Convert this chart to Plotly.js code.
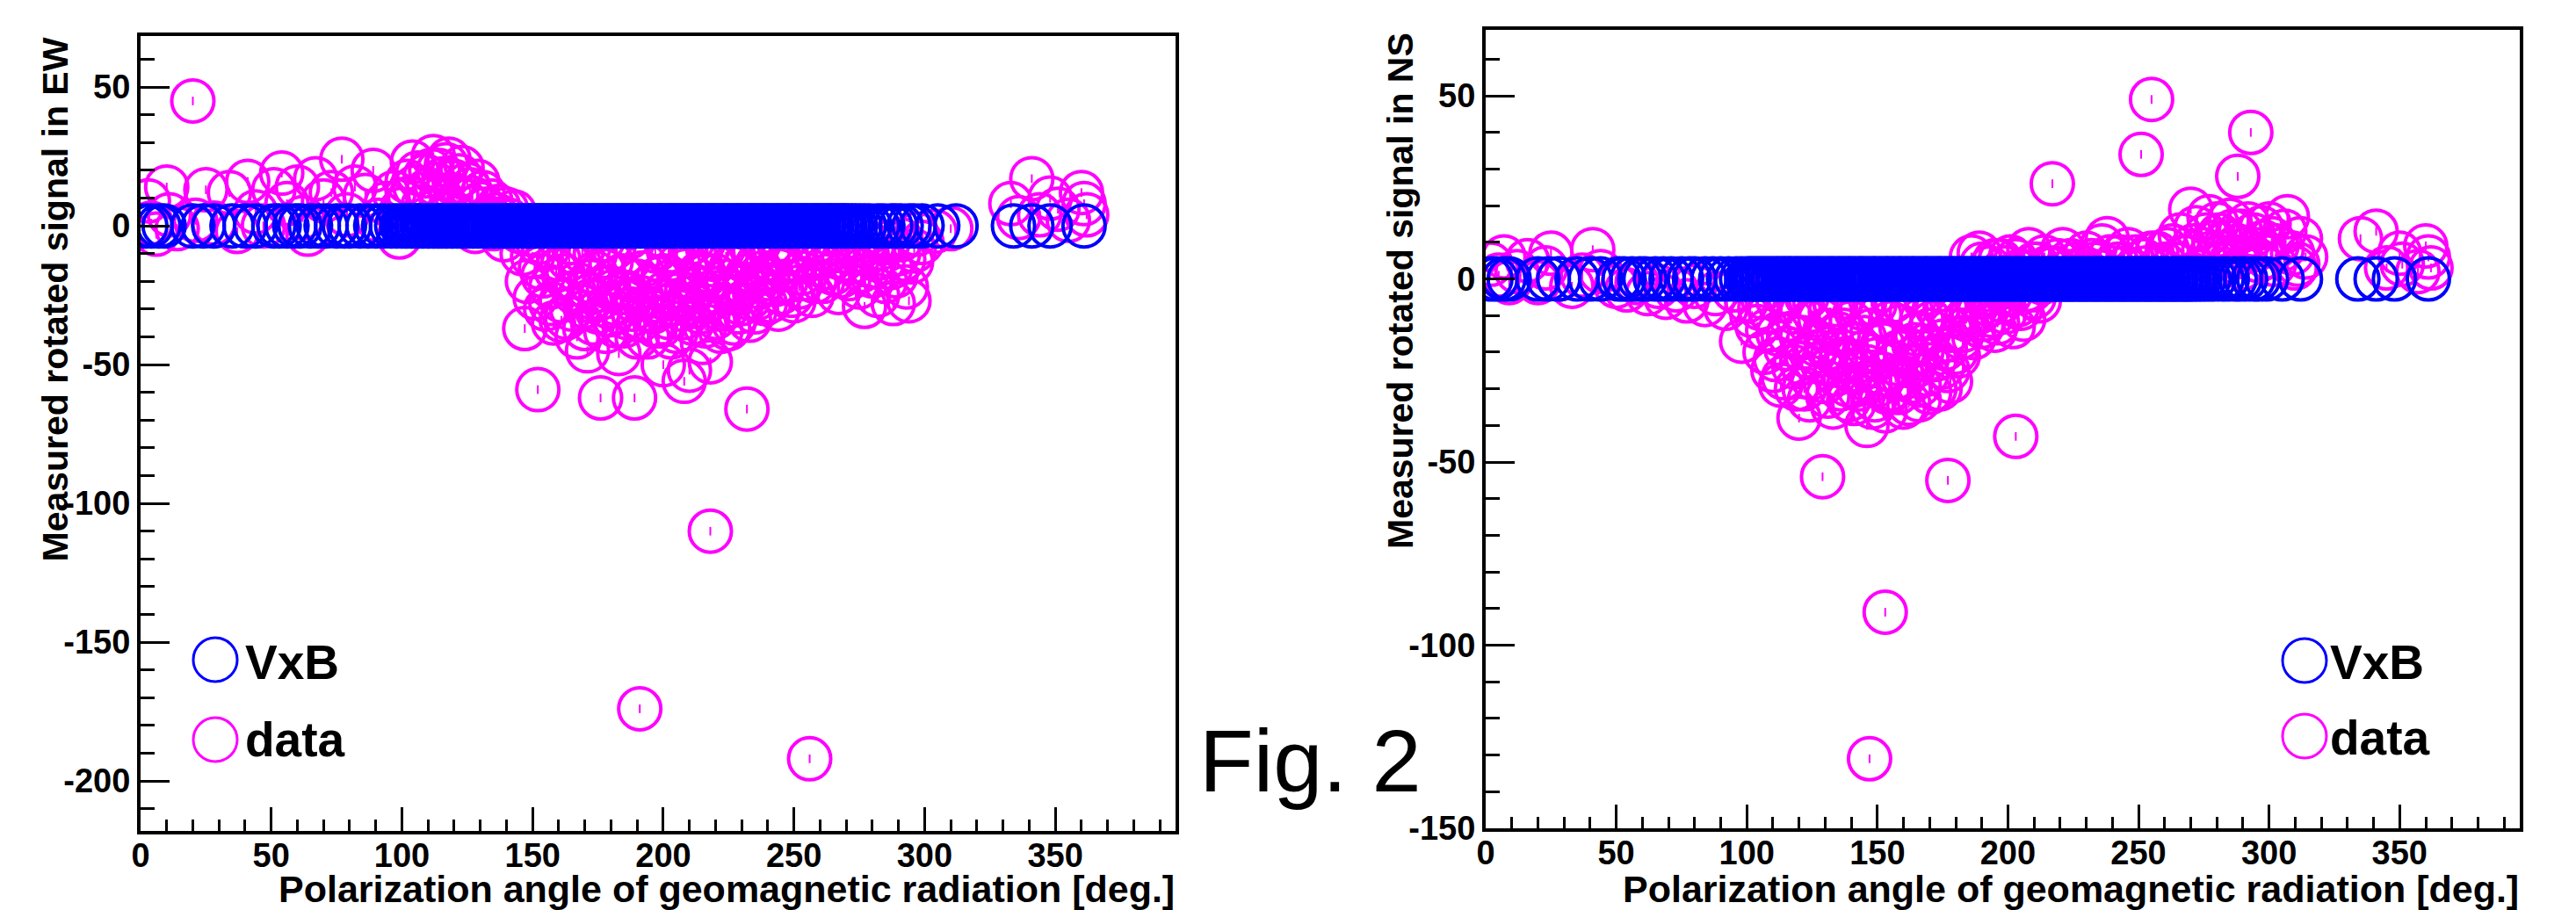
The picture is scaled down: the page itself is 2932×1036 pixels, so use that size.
<!DOCTYPE html>
<html>
<head>
<meta charset="utf-8">
<script src="https://cdn.plot.ly/plotly-3.0.1.min.js"></script>
<style>
html,body{margin:0;padding:0;background:#fff;}
#chart{width:2932px;height:1036px;}
</style>
</head>
<body>
<div id="chart"></div>
<script>
// ---------------- DATA ----------------
// Polarization angle [deg.] of each event (VxB expectation, shared by both panels)
const vxbAngle = [
  2, 4, 7, 9, 20, 24, 28, 35, 40, 44,
  51, 53, 56, 59, 61, 65, 68, 71, 75, 78,
  80, 84, 87, 90, 93, 96, 98, 100, 101.2, 102.1,
  103.4, 104.2, 105.5, 106.3, 107.6, 108.4, 109.7, 110.5, 111.8, 112.6,
  113.9, 114.7, 115.6, 116.8, 117.5, 118.9, 119.6, 120.8, 121.7, 122.9,
  123.6, 124.8, 125.7, 126.9, 127.5, 128.8, 129.6, 130.9, 131.7, 132.8,
  133.5, 134.9, 135.6, 136.8, 137.7, 138.9, 139.5, 140.8, 141.6, 142.9,
  143.7, 144.5, 145.8, 146.6, 147.9, 148.7, 149.5, 150.8, 151.6, 152.9,
  153.7, 154.5, 155.8, 156.6, 157.9, 158.7, 159.5, 160.8, 161.6, 162.9,
  163.7, 164.5, 165.8, 166.6, 167.9, 168.7, 169.5, 170.8, 171.6, 172.9,
  173.7, 174.5, 175.8, 176.6, 177.9, 178.7, 179.5, 180.8, 181.6, 182.9,
  183.7, 184.5, 185.8, 186.6, 187.9, 188.7, 189.5, 190.8, 191.6, 192.9,
  193.7, 194.5, 195.8, 196.6, 197.9, 198.7, 199.5, 200.8, 201.6, 202.9,
  203.7, 204.5, 205.8, 206.6, 207.9, 208.7, 209.5, 210.8, 211.6, 212.9,
  213.7, 214.5, 215.8, 216.6, 217.9, 218.7, 219.5, 220.8, 221.6, 222.9,
  223.7, 224.5, 225.8, 226.6, 227.9, 228.7, 229.5, 230.8, 231.6, 232.9,
  233.7, 234.5, 235.8, 236.6, 237.9, 238.7, 239.5, 240.8, 241.6, 242.9,
  243.7, 244.5, 245.8, 246.6, 247.9, 248.7, 249.5, 250.8, 251.6, 252.9,
  253.7, 254.5, 255.8, 256.6, 257.9, 258.7, 259.5, 260.8, 261.6, 262.9,
  263.7, 264.5, 265.8, 266.6, 267.9, 268.7, 269.5, 270.8, 272.1, 273.5,
  275.2, 277, 279, 282, 284, 287, 289, 291, 294, 296,
  299, 305, 312, 334, 341, 348, 361
];
const vxbSignal = [
  0,0,0,0,0,0,0,0,0,0,
  0,0,0,0,0,0,0,0,0,0,
  0,0,0,0,0,0,0,0,0,0,
  0,0,0,0,0,0,0,0,0,0,
  0,0,0,0,0,0,0,0,0,0,
  0,0,0,0,0,0,0,0,0,0,
  0,0,0,0,0,0,0,0,0,0,
  0,0,0,0,0,0,0,0,0,0,
  0,0,0,0,0,0,0,0,0,0,
  0,0,0,0,0,0,0,0,0,0,
  0,0,0,0,0,0,0,0,0,0,
  0,0,0,0,0,0,0,0,0,0,
  0,0,0,0,0,0,0,0,0,0,
  0,0,0,0,0,0,0,0,0,0,
  0,0,0,0,0,0,0,0,0,0,
  0,0,0,0,0,0,0,0,0,0,
  0,0,0,0,0,0,0,0,0,0,
  0,0,0,0,0,0,0,0,0,0,
  0,0,0,0,0,0,0,0,0,0,
  0,0,0,0,0,0,0,0,0,0,
  0,0,0,0,0,0,0,0,0,0,
  0,0,0,0,0,0,0
];

// Measured rotated signal in EW (left panel)
const ewAngle = [
  3,4,6,10,11,14,20,21,25,28,
  34,37,41,44,47,51,54,56,60,62,
  64,67,70,73,77,79,82,86,89,91,
  94,97,99,102,104,106,108,110,112,114,
  115,117,119,120,122,124,126,128,130,131,
  133,135,137,139,141,143,145,146,147,148,
  150,151,152,153,155,156,157,158,160,161,
  162,163,165,166,167,168,170,171,172,173,
  174,176,176,177,178,179,180,181,182,183,
  184,185,186,187,188,189,190,191,191,192,
  193,194,195,196,197,198,199,200,200,201,
  202,203,204,205,206,207,208,209,210,210,
  211,212,213,214,215,216,217,218,218,219,
  220,221,222,223,224,225,226,227,228,229,
  230,232,232,233,234,235,236,237,238,240,
  241,242,244,245,246,248,249,250,252,253,
  255,256,256,258,260,262,264,266,268,270,
  272,274,276,277,279,281,283,285,287,288,
  290,291,293,295,297,299,304,310,333,336,
  341,344,348,351,355,360,361,362,
  152,154,157,159,161,164,165,167,169,170,
  172,174,175,177,179,180,182,184,186,187,
  189,190,192,194,195,197,198,200,202,203,
  205,206,208,209,211,212,214,216,217,219,
  220,222,224,225,227,229,230,231,233,235,
  236,238,239,241,243,244,246,247,250,251,
  254,257,259,261,263,265,267,269,271,273,
  275,278,280,282,284,286,289,292,294,296,
  100,103,105,109,111,113,116,118,121,123,
  125,127,129,132,134,136,138,140,144,148
];
const ewSignal = [
  9,1,-3,14,4,-1,45,2,13,1,
  12,-2,16,5,0,13,19,8,14,3,
  -3,17,9,12,24,4,14,11,20,2,
  8,12,-4,16,23,19,7,13,25,20,
  10,22,5,16,18,9,13,-2,8,12,
  3,-1,7,-5,2,5,-2,-10,-37,-20,
  -11,-26,-59,-15,-30,-8,-22,-35,-12,-27,
  -18,-33,-6,-24,-40,-14,-29,-45,-20,-35,
  -10,-62,-26,-16,-38,-22,-32,-8,-28,-46,
  -18,-36,-24,-12,-30,-62,-20,-174,-34,-26,
  -14,-40,-22,-31,-9,-27,-36,-50,-18,-24,
  -33,-12,-28,-38,-20,-30,-56,-16,-52,-26,
  -35,-10,-22,-31,-42,-18,-27,-110,-49,-14,
  -33,-24,-38,-8,-20,-29,-15,-35,-22,-11,
  -28,-66,-18,-26,-7,-31,-14,-22,-4,-19,
  -27,-10,-16,-24,-6,-13,-25,-9,-22,-17,
  -5,-192,-12,-20,-8,-15,-3,-11,-18,-6,
  -13,-9,-16,-29,-4,-12,-8,-20,-15,-28,
  -10,-5,-22,-13,-3,-6,-2,-1,8,3,
  17,4,10,6,2,12,8,4,
  -6,-18,-28,-16,-34,-12,-30,-21,-9,-37,
  -27,-17,-31,-5,-29,-13,-36,-24,-33,-4,
  -27,-40,-17,-30,-7,-36,-19,-29,-9,-40,
  -25,-14,-33,-23,-6,-29,-17,-36,-8,-26,
  -18,-30,-11,-37,-24,-31,-12,-21,-34,-9,
  -26,-17,-28,-7,-21,-30,-15,-20,-27,-13,
  -19,-25,-11,-20,-9,-17,-24,-12,-19,-7,
  -22,-10,-18,-25,-13,-6,-18,-12,-27,-9,
  6,10,14,18,20,15,17,24,11,21,
  15,10,16,6,9,4,2,6,0,-3
];

// Measured rotated signal in NS (right panel)
const nsAngle = [
  2,5,7,9,12,16,20,23,25,28,
  33,37,41,44,50,54,58,62,66,69,
  73,77,80,84,88,92,95,98,100,102,
  104,106,107,109,110,112,113,114,115,117,
  118,120,120,121,122,123,124,125,126,127,
  129,129,130,131,132,133,134,135,136,137,
  138,139,140,141,142,143,144,145,146,147,
  147,148,149,150,151,152,153,153,154,155,
  156,157,158,159,160,161,162,163,164,165,
  166,167,168,169,170,171,172,174,175,176,
  177,177,178,180,181,182,184,185,187,189,
  190,192,194,196,198,200,202,203,205,207,
  210,213,186,189,193,197,201,204,208,211,
  214,217,218,221,224,227,230,233,236,238,
  240,243,246,248,251,252,255,255,258,261,
  264,267,270,271,273,276,278,280,282,284,
  285,287,288,289,290,291,293,294,296,298,
  300,302,305,307,310,312,314,335,341,345,
  350,351,357,360,361,362,
  105,108,111,112,114,116,118,119,121,123,
  124,126,128,130,131,133,134,136,137,139,
  140,142,143,145,146,148,149,150,152,154,
  155,157,158,160,161,163,164,166,167,169,
  170,172,173,175,176,178,179,181,183,186,
  188,191,193,195,199,201,204,206,209,212,
  190,195,199,203,206,210,215,219,223,226,
  229,232,235,239,242,245,249,253,257,260,
  263,266,269,272,275,277,279,281,283,286,
  288,292,295,297,299,301,303,306,309,311
];
const nsSignal = [
  4,1,6,-1,2,5,-1,3,7,0,
  -2,1,8,2,-2,-3,-1,-4,-2,-5,
  -3,-6,-2,-7,-4,-8,-3,-17,-6,-10,
  -13,-5,-20,-9,-25,-15,-29,-4,-19,-11,
  -24,-38,-8,-16,-30,-21,-12,-27,-6,-18,
  -54,-23,-14,-32,-9,-20,-26,-15,-30,-5,
  -22,-29,-12,-34,-18,-25,-8,-20,-40,-131,
  -28,-14,-33,-22,-10,-26,-91,-36,-17,-30,
  -6,-23,-31,-13,-27,-19,-34,-9,-24,-15,
  -29,-20,-4,-26,-31,-12,-22,-30,-17,-8,
  -55,-25,-14,-20,-6,-16,-11,-3,-16,-9,
  -13,-4,-10,-12,-6,-2,-13,-43,-8,-3,
  -5,-1,6,7,3,5,6,2,8,4,
  6,26,3,8,5,2,7,4,9,11,
  3,6,8,2,34,5,49,7,3,8,
  4,6,19,9,2,12,7,15,4,10,
  16,6,28,13,3,8,40,12,5,10,
  15,4,8,17,3,11,6,11,13,3,
  7,4,2,9,6,3,
  -8,-14,-22,-6,-27,-15,-9,-30,-23,-5,
  -33,-20,-11,-28,-19,-35,-7,-22,-14,-33,
  -25,-9,-30,-16,-24,-35,-7,-29,-18,-31,
  -12,-27,-20,-35,-8,-28,-18,-33,-11,-22,
  -14,-30,-8,-24,-19,-28,-10,-21,-14,-10,
  -5,-11,-7,-14,-9,-4,-7,-11,-3,-6,
  4,5,3,5,2,4,3,5,2,4,
  3,5,2,6,4,3,6,3,7,4,
  9,12,6,14,8,17,10,12,7,13,
  9,15,8,14,6,11,9,13,7,4
];

// Axis tick labels
const xTickVals = [0, 50, 100, 150, 200, 250, 300, 350];
const xTickText = ["0", "50", "100", "150", "200", "250", "300", "350"];
const ewTickVals = [50, 0, -50, -100, -150, -200];
const ewTickText = ["50", "0", "-50", "-100", "-150", "-200"];
const nsTickVals = [50, 0, -50, -100, -150];
const nsTickText = ["50", "0", "-50", "-100", "-150"];

// Texts
const seriesNames = ["VxB", "data"];
const xTitle = "Polarization angle of geomagnetic radiation [deg.]";
const ewTitle = "Measured rotated signal in EW";
const nsTitle = "Measured rotated signal in NS";
const figLabel = "Fig. 2";

// ---------------- STYLE ----------------
const W = 2932, H = 1036;
const px = x => x / W;
const py = y => 1 - y / H;
const BLUE = "#0000ff", MAG = "#ff00ff";
const FONT = "Liberation Sans, Arial, Helvetica, sans-serif";
const ringSize = 48, ringWidth = 4;

function ring(x, y, color, xa, ya, name) {
  return {type: "scatter", mode: "markers", x: x, y: y, xaxis: xa, yaxis: ya, name: name,
    hoverinfo: "skip", showlegend: false,
    marker: {symbol: "circle-open", size: ringSize, color: color, line: {width: ringWidth, color: color}}};
}
function dots(x, y, color, xa, ya) {
  return {type: "scatter", mode: "markers", x: x, y: y, xaxis: xa, yaxis: ya,
    hoverinfo: "skip", showlegend: false,
    marker: {symbol: "line-ns", size: 7, color: color, line: {width: 2, color: color}}};
}

const traces = [
  ring(ewAngle, ewSignal, MAG, "x", "y", seriesNames[1]),
  dots(ewAngle, ewSignal, MAG, "x", "y"),
  ring(vxbAngle, vxbSignal, BLUE, "x", "y", seriesNames[0]),
  ring(nsAngle, nsSignal, MAG, "x2", "y2", seriesNames[1]),
  dots(nsAngle, nsSignal, MAG, "x2", "y2"),
  ring(vxbAngle, vxbSignal, BLUE, "x2", "y2", seriesNames[0])
];

const tickFont = {family: FONT, size: 38, color: "#000", weight: "bold"};
function xAxis(domain, anchor) {
  return {domain: domain, anchor: anchor, range: [0, 396], showgrid: false, zeroline: false,
    showline: true, linecolor: "#000", linewidth: 4, mirror: true,
    ticks: "inside", ticklen: 27, tickwidth: 3, tickcolor: "#000",
    tickmode: "array", tickvals: xTickVals, ticktext: xTickText, tickfont: tickFont,
    ticklabelstandoff: -9,
    minor: {tickmode: "linear", tick0: 0, dtick: 10, ticks: "inside", ticklen: 13, tickwidth: 3, tickcolor: "#000", showgrid: false}};
}
function yAxis(domain, anchor, range, vals, text) {
  return {domain: domain, anchor: anchor, range: range, showgrid: false, zeroline: false,
    showline: true, linecolor: "#000", linewidth: 4, mirror: true,
    ticks: "inside", ticklen: 33, tickwidth: 3, tickcolor: "#000",
    tickmode: "array", tickvals: vals, ticktext: text, tickfont: tickFont,
    ticklabelstandoff: 0,
    minor: {tickmode: "linear", tick0: 0, dtick: 10, ticks: "inside", ticklen: 16, tickwidth: 3, tickcolor: "#000", showgrid: false}};
}

const yTitleFont = {family: FONT, size: 41, color: "#000", weight: "bold"};
const xTitleFont = {family: FONT, size: 43, color: "#000", weight: "bold"};
const legFont = {family: FONT, size: 55, color: "#000", weight: "bold"};

function legendCircle(cx, cy, color) {
  return {type: "circle", xref: "paper", yref: "paper",
    x0: px(cx - 25), x1: px(cx + 25), y0: py(cy + 25), y1: py(cy - 25),
    line: {color: color, width: 3}, fillcolor: "rgba(0,0,0,0)"};
}
function txt(text, x, y, font, xanchor, yanchor, angle) {
  return {text: text, xref: "paper", yref: "paper", x: px(x), y: py(y), showarrow: false,
    xanchor: xanchor, yanchor: yanchor, textangle: angle || 0, font: font, borderpad: 0};
}

const layout = {
  width: W, height: H, margin: {l: 0, r: 0, t: 0, b: 0},
  paper_bgcolor: "#fff", plot_bgcolor: "#fff", showlegend: false,
  font: {family: FONT, color: "#000"},
  xaxis: xAxis([px(160), px(1338)], "y"),
  yaxis: yAxis([py(946), py(41)], "x", [-218, 68.4], ewTickVals, ewTickText),
  xaxis2: xAxis([px(1691), px(2868)], "y2"),
  yaxis2: yAxis([py(943), py(34)], "x2", [-150, 68], nsTickVals, nsTickText),
  shapes: [
    legendCircle(245, 751, BLUE), legendCircle(245, 842, MAG),
    legendCircle(2623, 752, BLUE), legendCircle(2623, 838, MAG)
  ],
  annotations: [
    txt(ewTitle, 62, 42, yTitleFont, "center", "top", -90),
    txt(nsTitle, 1594, 36, yTitleFont, "center", "top", -90),
    txt(xTitle, 1338, 1012, xTitleFont, "right", "middle"),
    txt(xTitle, 2868, 1012, xTitleFont, "right", "middle"),
    txt(seriesNames[0], 278, 754, legFont, "left", "middle"),
    txt(seriesNames[1], 278, 842, legFont, "left", "middle"),
    txt(seriesNames[0], 2651, 754, legFont, "left", "middle"),
    txt(seriesNames[1], 2651, 840, legFont, "left", "middle"),
    txt(figLabel, 1364, 866, {family: FONT, size: 101, color: "#000"}, "left", "middle")
  ]
};

Plotly.newPlot("chart", traces, layout, {staticPlot: true, displayModeBar: false});
</script>
</body>
</html>
